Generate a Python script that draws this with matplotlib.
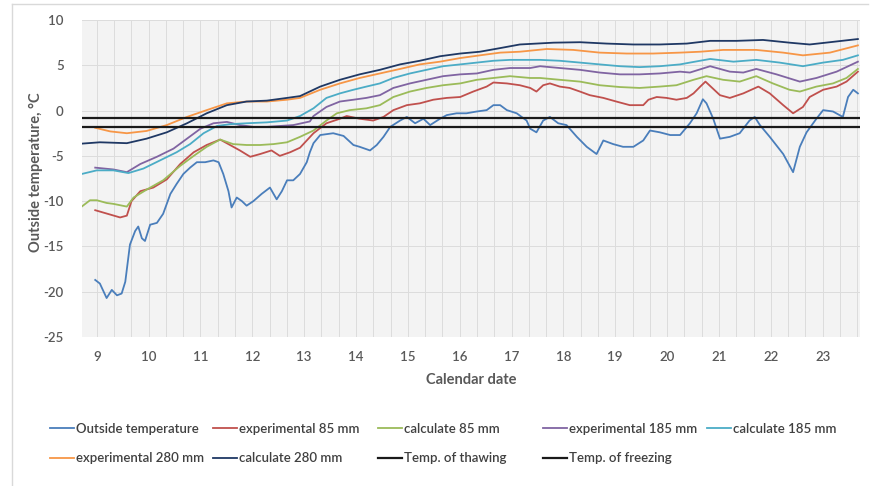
import matplotlib.pyplot as plt
import numpy as np
from matplotlib.lines import Line2D
from matplotlib.patches import Rectangle

plt.rcParams['font.family'] = ['Lato', 'DejaVu Sans']
plt.rcParams['axes.unicode_minus'] = False
plt.rcParams['hatch.color'] = '#e0e0e0'
plt.rcParams['hatch.linewidth'] = 0.4

# outside temperature (day, degC)
out_day = [8.97, 9.06, 9.19, 9.29, 9.39, 9.48, 9.55, 9.64, 9.74, 9.80, 9.87, 9.93, 10.03, 10.16,
           10.28, 10.42, 10.54, 10.67, 10.80, 10.93, 11.09, 11.25, 11.35, 11.44, 11.54, 11.60,
           11.70, 11.80, 11.89, 12.02, 12.18, 12.34, 12.47, 12.57, 12.67, 12.79, 12.92, 13.05,
           13.11, 13.18, 13.31, 13.56, 13.76, 13.95, 14.07, 14.27, 14.40, 14.53, 14.66, 14.85,
           14.98, 15.14, 15.30, 15.43, 15.62, 15.75, 15.94, 16.13, 16.33, 16.52, 16.65, 16.78,
           16.91, 17.10, 17.29, 17.36, 17.48, 17.61, 17.74, 17.90, 18.06, 18.26, 18.45, 18.64,
           18.77, 18.96, 19.15, 19.35, 19.54, 19.67, 19.86, 20.06, 20.25, 20.44, 20.57, 20.69,
           20.76, 20.89, 21.02, 21.21, 21.40, 21.59, 21.69, 21.79, 21.98, 22.24, 22.43, 22.56,
           22.69, 22.88, 23.01, 23.20, 23.39, 23.49, 23.59, 23.68]
out_temp = [-18.7, -19.1, -20.7, -19.8, -20.4, -20.2, -18.9, -14.8, -13.3, -12.8, -14.1, -14.4,
            -12.6, -12.4, -11.4, -9.2, -8.1, -7.0, -6.3, -5.7, -5.7, -5.5, -5.7, -7.0, -8.9, -10.7,
            -9.6, -10.0, -10.5, -10.0, -9.2, -8.5, -9.8, -8.9, -7.7, -7.7, -7.0, -5.7,
            -4.6, -3.6, -2.7, -2.5, -2.8, -3.8, -4.0, -4.4, -3.8, -2.9, -1.8, -1.1,
            -0.7, -1.4, -0.9, -1.6, -0.9, -0.5, -0.3, -0.3, -0.1, 0.05, 0.6, 0.6,
            0.05, -0.3, -1.1, -2.0, -2.4, -1.1, -0.7, -1.4, -1.6, -2.9, -4.0, -4.8,
            -3.3, -3.7, -4.0, -4.0, -3.3, -2.2, -2.4, -2.7, -2.7, -1.4, -0.3, 1.25,
            0.8, -0.9, -3.1, -2.9, -2.5, -1.1, -0.7, -1.6, -2.9, -4.8, -6.8, -4.0,
            -2.4, -0.9, 0.05, -0.1, -0.7, 1.5, 2.3, 1.9]

# experimental 85 mm
e85_day = [8.97, 9.45, 9.58, 9.67, 9.84, 10.09, 10.35, 10.61, 10.87, 11.12, 11.38, 11.57, 11.76,
           11.96, 12.15, 12.37, 12.53, 12.73, 12.92, 13.18, 13.43, 13.69, 13.82, 14.07, 14.33,
           14.53, 14.72, 14.98, 15.23, 15.49, 15.75, 16.01, 16.26, 16.52, 16.65, 16.91, 17.16,
           17.36, 17.48, 17.61, 17.74, 17.93, 18.12, 18.32, 18.51, 18.77, 19.02, 19.28, 19.54,
           19.64, 19.80, 19.99, 20.18, 20.38, 20.51, 20.64, 20.74, 21.02, 21.21, 21.47, 21.76,
           21.98, 22.24, 22.43, 22.62, 22.75, 23.01, 23.27, 23.46, 23.68]
e85_temp = [-11.0, -11.8, -11.6, -10.0, -8.9, -8.5, -7.6, -5.9, -4.6, -3.8, -3.2, -3.8, -4.4,
            -5.1, -4.8, -4.4, -5.0, -4.6, -4.1, -2.5, -1.4, -0.9, -0.6, -0.9, -1.1,
            -0.7, 0.05, 0.6, 0.8, 1.2, 1.4, 1.5, 2.1, 2.65, 3.1, 3.0, 2.8,
            2.5, 2.1, 2.8, 3.0, 2.65, 2.5, 2.1, 1.7, 1.4, 1.0, 0.6, 0.6,
            1.2, 1.5, 1.4, 1.2, 1.4, 1.9, 2.65, 3.2, 1.7, 1.4, 1.9, 2.65,
            1.9, 0.6, -0.3, 0.4, 1.5, 2.3, 2.65, 3.2, 4.3]

# calculate 85 mm
c85_day = [8.71, 8.87, 9.0, 9.19, 9.32, 9.58, 9.71, 9.97, 10.28, 10.61, 10.87, 11.12, 11.38,
           11.63, 11.89, 12.15, 12.41, 12.67, 12.92, 13.18, 13.43, 13.63, 13.88, 14.20, 14.46,
           14.72, 15.04, 15.36, 15.68, 16.01, 16.33, 16.65, 16.97, 17.36, 17.55, 17.93, 18.32,
           18.70, 19.09, 19.47, 19.86, 20.18, 20.51, 20.76, 21.08, 21.40, 21.72, 22.04, 22.36,
           22.56, 22.88, 23.20, 23.46, 23.68]
c85_temp = [-10.6, -9.9, -9.9, -10.2, -10.3, -10.6, -9.6, -8.7, -7.7, -6.1, -5.0, -4.0, -3.2,
            -3.7, -3.8, -3.8, -3.7, -3.5, -2.9, -2.2, -1.1, -0.3, 0.05, 0.25, 0.6,
            1.5, 2.1, 2.5, 2.8, 3.0, 3.4, 3.6, 3.8, 3.6, 3.6, 3.4, 3.2,
            2.8, 2.6, 2.5, 2.65, 2.8, 3.4, 3.8, 3.4, 3.2, 3.8, 3.0, 2.3,
            2.1, 2.65, 3.0, 3.6, 4.6]

# experimental 185 mm
e185_day = [8.97, 9.32, 9.58, 9.84, 10.16, 10.48, 10.74, 11.0, 11.25, 11.51, 11.76, 12.02, 12.28,
            12.53, 12.79, 13.11, 13.18, 13.43, 13.69, 13.95, 14.20, 14.46, 14.72, 15.04, 15.36,
            15.68, 16.01, 16.33, 16.65, 16.97, 17.36, 17.55, 17.93, 18.32, 18.70, 19.09, 19.47,
            19.86, 20.25, 20.44, 20.83, 21.21, 21.47, 21.72, 22.11, 22.56, 22.88, 23.27, 23.68]
e185_temp = [-6.3, -6.5, -6.8, -5.9, -5.1, -4.2, -3.1, -2.0, -1.4, -1.25, -1.6, -1.8, -1.8,
             -1.7, -1.6, -1.2, -0.6, 0.4, 1.0, 1.2, 1.4, 1.7, 2.5, 3.0, 3.4,
             3.8, 4.0, 4.1, 4.5, 4.7, 4.7, 4.9, 4.7, 4.5, 4.2, 4.0, 4.0,
             4.1, 4.3, 4.2, 4.9, 4.3, 4.2, 4.6, 4.0, 3.2, 3.6, 4.3, 5.4]

# calculate 185 mm
c185_day = [8.71, 9.0, 9.32, 9.61, 9.90, 10.22, 10.54, 10.80, 11.06, 11.32, 11.57, 11.89, 12.28,
            12.67, 12.92, 13.18, 13.43, 13.69, 13.95, 14.20, 14.46, 14.72, 15.04, 15.36, 15.68,
            16.01, 16.33, 16.65, 16.97, 17.36, 17.55, 17.93, 18.32, 18.70, 19.09, 19.47, 19.86,
            20.25, 20.44, 20.83, 21.28, 21.72, 22.17, 22.62, 23.01, 23.39, 23.68]
c185_temp = [-7.0, -6.6, -6.6, -6.9, -6.4, -5.5, -4.6, -3.7, -2.5, -1.7, -1.5, -1.4, -1.3,
             -1.1, -0.6, 0.25, 1.4, 1.9, 2.3, 2.65, 3.0, 3.6, 4.1, 4.5, 4.9,
             5.1, 5.3, 5.5, 5.6, 5.6, 5.6, 5.5, 5.3, 5.1, 4.9, 4.8, 4.9,
             5.1, 5.3, 5.7, 5.4, 5.6, 5.3, 4.9, 5.3, 5.6, 6.1]

# experimental 280 mm
e280_day = [8.97, 9.26, 9.58, 9.96, 10.35, 10.74, 11.12, 11.51, 11.89, 12.28, 12.67, 12.92, 13.31,
            13.69, 14.07, 14.46, 14.85, 15.23, 15.62, 16.01, 16.39, 16.78, 17.16, 17.68, 18.19,
            18.70, 19.22, 19.73, 20.25, 20.64, 21.08, 21.72, 22.24, 22.62, 23.14, 23.68]
e280_temp = [-1.9, -2.3, -2.5, -2.25, -1.6, -0.7, 0.05, 0.8, 1.0, 1.0, 1.2, 1.4, 2.3,
             3.0, 3.6, 4.1, 4.6, 5.1, 5.4, 5.8, 6.1, 6.4, 6.5, 6.8, 6.7,
             6.4, 6.3, 6.3, 6.4, 6.5, 6.7, 6.7, 6.4, 6.1, 6.4, 7.2]

# calculate 280 mm
c280_day = [8.71, 9.06, 9.58, 9.96, 10.35, 10.74, 11.12, 11.51, 11.89, 12.28, 12.67, 12.92, 13.31,
            13.69, 14.07, 14.46, 14.85, 15.23, 15.62, 16.01, 16.39, 16.78, 17.16, 17.81, 18.32,
            18.83, 19.35, 19.86, 20.38, 20.83, 21.34, 21.85, 22.36, 22.75, 23.14, 23.68]
c280_temp = [-3.65, -3.5, -3.6, -3.1, -2.4, -1.4, -0.3, 0.6, 1.0, 1.1, 1.4, 1.6, 2.65,
             3.4, 4.0, 4.5, 5.1, 5.5, 6.0, 6.3, 6.5, 6.9, 7.3, 7.5, 7.55,
             7.4, 7.3, 7.3, 7.4, 7.7, 7.7, 7.8, 7.5, 7.3, 7.55, 7.9]

thawing = -0.8
freezing = -1.8

fig = plt.figure(figsize=(8.76, 4.86), dpi=100)
ax = fig.add_axes([0.0933, 0.3066, 0.8884, 0.6522])

ax.set_facecolor('#f3f3f3')
ax.add_patch(Rectangle((0, 0), 1, 1, transform=ax.transAxes, facecolor='none',
                       edgecolor='none', hatch='\\\\\\\\', zorder=0))

ax.plot(out_day, out_temp, color='#4a7ebb', lw=1.3, label='Outside temperature')
ax.plot(e85_day, e85_temp, color='#c0504d', lw=1.3, label='experimental 85 mm')
ax.plot(c85_day, c85_temp, color='#9bbb59', lw=1.3, label='calculate 85 mm')
ax.plot(e185_day, e185_temp, color='#8064a2', lw=1.3, label='experimental 185 mm')
ax.plot(c185_day, c185_temp, color='#4bacc6', lw=1.3, label='calculate 185 mm')
ax.plot(e280_day, e280_temp, color='#f79646', lw=1.3, label='experimental 280 mm')
ax.plot(c280_day, c280_temp, color='#1f3864', lw=1.3, label='calculate 280 mm')
ax.axhline(thawing, color='#1a1a1a', lw=1.6, label='Temp. of thawing')
ax.axhline(freezing, color='#1a1a1a', lw=1.6, label='Temp. of freezing')

ax.set_xlim(8.71, 23.72)
ax.set_ylim(-25, 10)
ax.set_xticks(np.arange(9, 24))
ax.set_xticks(np.arange(9.0, 23.72, 1 / 3), minor=True)
ax.set_yticks(np.arange(-25, 11, 5))
ax.grid(which='major', axis='both', color='#dcdcdc', lw=0.7)
ax.grid(which='minor', axis='x', color='#dcdcdc', lw=0.7)
ax.set_axisbelow(True)
for s in ax.spines.values():
    s.set_visible(False)
ax.tick_params(axis='both', which='both', length=0, colors='#595959', labelsize=9.5)
ax.tick_params(axis='x', pad=10)
ax.tick_params(axis='y', pad=13)
for t in ax.get_xticklabels() + ax.get_yticklabels():
    t.set_fontweight('semibold')

fig.text(0.538, 0.218, 'Calendar date', ha='center', va='center', color='#595959',
         fontsize=10.5, fontweight='bold')
fig.text(0.041, 0.645, 'Outside temperature, °C', ha='center', va='center', rotation=90,
         color='#595959', fontsize=10.5, fontweight='bold')

# legend in five columns, placed one column at a time
h, lab = ax.get_legend_handles_labels()
cols = [[0, 5], [1, 6], [2, 7], [3, 8], [4]]
col_x = [50, 213, 378, 543, 707]
for idx, cx in zip(cols, col_x):
    fig.legend([h[i] for i in idx], [lab[i] for i in idx], loc='upper left',
               bbox_to_anchor=(cx / 876, 1 - 423 / 486), frameon=False, borderpad=0,
               borderaxespad=0, handlelength=1.85, handletextpad=0.15, labelspacing=1.3,
               prop={'size': 9.5, 'weight': 'semibold'}, labelcolor='#404040')

# chart area border
fig.add_artist(Line2D([12 / 876, 868 / 876], [1 - 4 / 486, 1 - 4 / 486],
                      transform=fig.transFigure, color='#d9d9d9', lw=1))
fig.add_artist(Line2D([12 / 876, 12 / 876], [0, 1 - 4 / 486],
                      transform=fig.transFigure, color='#d9d9d9', lw=1))

fig.savefig('out.png', dpi=100)
